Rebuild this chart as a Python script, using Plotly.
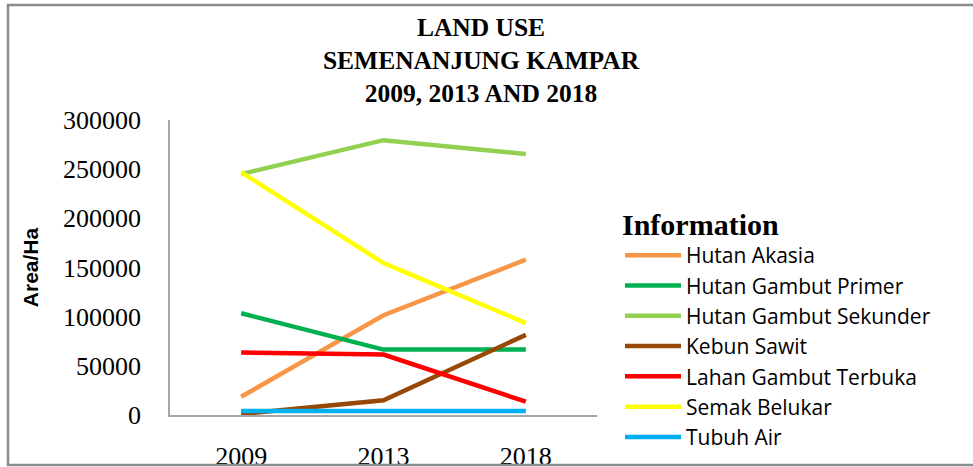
import plotly.graph_objects as go

years = ["2009", "2013", "2018"]
series_names = ["Hutan Akasia", "Hutan Gambut Primer", "Hutan Gambut Sekunder",
                "Kebun Sawit", "Lahan Gambut Terbuka", "Semak Belukar", "Tubuh Air"]
hutan_akasia = [18500, 101500, 158000]
hutan_gambut_primer = [103500, 66500, 66500]
hutan_gambut_sekunder = [245000, 279500, 265500]
kebun_sawit = [1000, 15000, 81500]
lahan_gambut_terbuka = [63500, 61500, 13500]
semak_belukar = [247000, 154500, 93500]
tubuh_air = [4000, 4000, 4000]
colors = ["#F79646", "#00B050", "#92D050", "#974706", "#FF0000", "#FFFF00", "#00B0F0"]
y_ticks = [0, 50000, 100000, 150000, 200000, 250000, 300000]

values = [hutan_akasia, hutan_gambut_primer, hutan_gambut_sekunder, kebun_sawit,
          lahan_gambut_terbuka, semak_belukar, tubuh_air]

W, H = 973, 467
L, R, T, B = 170, 376, 120, 52
pw, ph = W - L - R, H - T - B

fig = go.Figure()
for i, (name, vals, col) in enumerate(zip(series_names, values, colors)):
    fig.add_trace(go.Scatter(x=years, y=vals, name=name, mode="lines",
                             line=dict(color=col, width=4.5)))

def px_x(p):
    return (p - L) / pw

def px_y(p):
    return (H - B - p) / ph

fig.update_layout(
    width=W, height=H,
    margin=dict(l=L, r=R, t=T, b=B, autoexpand=False),
    paper_bgcolor="white", plot_bgcolor="white",
    title=dict(text="<b>LAND USE<br>SEMENANJUNG KAMPAR<br>2009, 2013 AND 2018</b>",
               x=481 / W, xanchor="center", y=1 - 36 / H, yanchor="top",
               font=dict(family="Liberation Serif", size=25.5, color="black")),
    xaxis=dict(type="category", range=[-0.5, 2.5], showgrid=False, showline=True,
               linecolor="#a6a6a6", linewidth=1.5, ticks="", ticklabelstandoff=17,
               tickfont=dict(family="Liberation Serif", size=26, color="black"),
               zeroline=False, fixedrange=True),
    yaxis=dict(range=[0, 300000], tickvals=y_ticks, ticktext=[str(v) for v in y_ticks],
               showgrid=False, showline=True, linecolor="#a6a6a6", linewidth=1.5,
               ticks="", ticklabelstandoff=22, zeroline=False,
               tickfont=dict(family="Liberation Serif", size=26, color="black"),
               title=dict(text="<b>Area/Ha</b>", standoff=19,
                          font=dict(family="Liberation Sans", size=21, color="black"))),
    legend=dict(x=px_x(620), xanchor="left", y=px_y(196), yanchor="top",
                title=dict(text="<b>Information</b>",
                           font=dict(family="Liberation Serif", size=30, color="black")),
                font=dict(family="Open Sans", size=21, color="black"),
                itemwidth=56, bgcolor="rgba(0,0,0,0)"),
    showlegend=True,
)

fig.add_shape(type="rect", xref="paper", yref="paper",
              x0=px_x(8), x1=px_x(976), y0=px_y(465), y1=px_y(5),
              line=dict(color="#8c8c8c", width=2.5), layer="above")

fig.write_html("out.html", config={"displayModeBar": False},
               post_script="document.body.style.margin='0';")
